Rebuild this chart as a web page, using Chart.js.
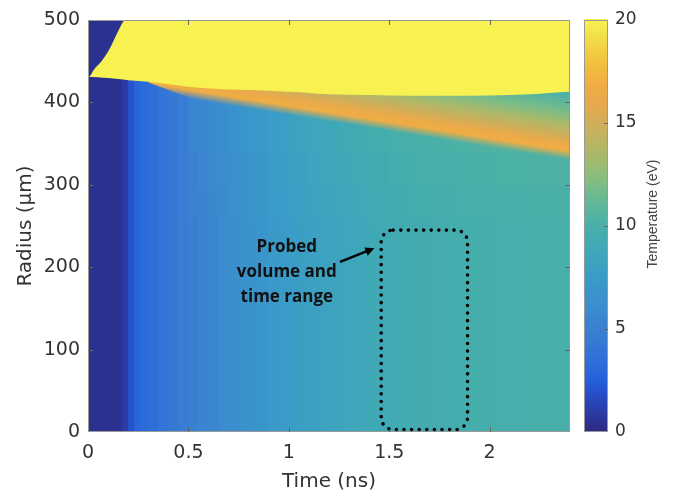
<!DOCTYPE html>
<html>
<head>
<meta charset="utf-8">
<script src="https://cdn.jsdelivr.net/npm/chart.js@4.4.1/dist/chart.umd.min.js"></script>
<style>
    html, body { margin: 0; padding: 0; background: #fff; }
    #wrap { width: 677px; height: 496px; }
</style>
</head>
<body>
<div id="wrap"><canvas id="tempChart" width="677" height="496"></canvas></div>
<script>
// Bordes de los intervalos de tiempo (ns)
const timeEdges = [0, 0.17, 0.2, 0.23, 0.26, 0.3, 0.35, 0.4, 0.45, 0.5, 0.55, 0.6, 0.65, 0.7, 0.75,
    0.8, 0.85, 0.9, 0.95, 1.0, 1.05, 1.1, 1.15, 1.2, 1.25, 1.3, 1.35, 1.4, 1.5, 1.6, 1.7, 1.8,
    1.9, 2.0, 2.1, 2.2, 2.3, 2.4];
// Bordes de las bandas de radio (µm)
const radiusEdges = [0, 100, 200, 260, 300, 340, 380, 425, 500];

// Temperatura del plasma (eV): un array por intervalo de tiempo, bandas de abajo hacia arriba
const tempByTime = [
    [0.4, 0.4, 0.4, 0.4, 0.4, 0.4, 0.4, 0.4],
    [1.0, 1.0, 1.0, 1.0, 1.0, 1.0, 1.0, 1.0],
    [2.0, 2.0, 2.0, 2.0, 2.0, 2.0, 2.0, 2.0],
    [2.8, 2.8, 2.8, 2.8, 2.8, 2.8, 2.8, 2.8],
    [3.3, 3.3, 3.3, 3.3, 3.3, 3.3, 3.3, 3.3],
    [3.6, 3.6, 3.6, 3.6, 3.6, 3.6, 3.6, 3.6],
    [4.0, 4.0, 4.0, 4.0, 4.0, 4.0, 4.0, 4.0],
    [4.35, 4.35, 4.35, 4.35, 4.35, 4.35, 4.35, 4.35],
    [4.7, 4.7, 4.7, 4.7, 4.7, 4.7, 4.7, 4.7],
    [5.0, 5.0, 5.0, 5.1, 5.2, 5.3, 5.3, 5.3],
    [5.3, 5.3, 5.3, 5.4, 5.5, 5.6, 5.6, 5.6],
    [5.6, 5.6, 5.6, 5.7, 5.8, 5.9, 5.9, 5.9],
    [5.9, 5.9, 5.9, 6.0, 6.1, 6.2, 6.2, 6.2],
    [6.2, 6.2, 6.2, 6.3, 6.4, 6.5, 6.5, 6.5],
    [6.45, 6.45, 6.45, 6.55, 6.65, 6.75, 6.75, 6.75],
    [6.7, 6.7, 6.7, 6.8, 6.9, 7.0, 7.0, 7.0],
    [6.95, 6.95, 6.95, 7.05, 7.15, 7.25, 7.25, 7.25],
    [7.2, 7.2, 7.2, 7.3, 7.4, 7.5, 7.5, 7.5],
    [7.4, 7.4, 7.4, 7.5, 7.6, 7.7, 7.7, 7.7],
    [7.6, 7.6, 7.6, 7.75, 7.9, 8.1, 8.1, 8.1],
    [7.8, 7.8, 7.8, 7.95, 8.1, 8.3, 8.3, 8.3],
    [8.0, 8.0, 8.0, 8.15, 8.3, 8.5, 8.5, 8.5],
    [8.2, 8.2, 8.2, 8.35, 8.5, 8.7, 8.7, 8.7],
    [8.35, 8.35, 8.35, 8.5, 8.65, 8.85, 8.85, 8.85],
    [8.5, 8.5, 8.5, 8.65, 8.8, 9.0, 9.0, 9.0],
    [8.65, 8.65, 8.65, 8.8, 8.95, 9.15, 9.15, 9.15],
    [8.8, 8.8, 8.8, 8.95, 9.1, 9.3, 9.3, 9.3],
    [9.0, 9.0, 9.0, 9.2, 9.4, 9.6, 9.6, 9.6],
    [9.2, 9.2, 9.2, 9.4, 9.6, 9.8, 9.8, 9.8],
    [9.4, 9.4, 9.4, 9.6, 9.8, 10.0, 10.0, 10.0],
    [9.5, 9.5, 9.5, 9.7, 9.9, 10.1, 10.1, 10.1],
    [9.6, 9.6, 9.6, 9.8, 10.0, 10.2, 10.2, 10.2],
    [9.7, 9.7, 9.7, 9.9, 10.1, 10.3, 10.3, 10.3],
    [9.8, 9.8, 9.8, 10.0, 10.2, 10.4, 10.4, 10.4],
    [9.8, 9.8, 9.8, 10.0, 10.2, 10.4, 10.4, 10.4],
    [9.9, 9.9, 9.9, 10.1, 10.3, 10.5, 10.5, 10.5],
    [9.9, 9.9, 9.9, 10.1, 10.3, 10.5, 10.5, 10.5]
];

// Borde inferior de la zona caliente (saturada)
const hotEdgeTime = [0, 0.05, 0.1, 0.15, 0.2, 0.3, 0.4, 0.5, 0.6, 0.8, 1.0, 1.2, 1.4, 1.6, 1.8, 2.0, 2.2, 2.3, 2.4];
const hotEdgeRadius = [431, 430.5, 429.5, 428.5, 427, 425, 422, 419, 417, 415, 413, 410, 409, 408, 408, 408.5, 410, 411.5, 413];
const hotTemp = 20;

// Borde de la zona fría arriba a la izquierda
const coldEdgeTime = [0, 0.01, 0.03, 0.07, 0.105, 0.145, 0.175, 0.182];
const coldEdgeRadius = [431, 432, 440, 451, 464, 484, 498, 500];
const coldTemp = 0.4;

// Frente naranja bajo la zona caliente: borde inferior y perfil por encima de él
const wedgeEdgeTime = [0.3, 0.56, 1.35, 2.4];
const wedgeEdgeRadius = [424, 402, 372, 330];
const wedgeProfileOffset = [0, 11, 19, 29, 43, 57, 71, 82];      // µm sobre el borde
const wedgeProfileTemp = [16.5, 16.8, 16.3, 15, 13.5, 12, 10.8, 10];

// Marcas de los ejes
const timeTicks = [0, 0.5, 1, 1.5, 2];
const radiusTicks = [0, 100, 200, 300, 400, 500];
const tempTicks = [0, 5, 10, 15, 20];

// Volumen y rango de tiempo sondeados (ns, µm)
const probedBox = { t0: 1.46, t1: 1.89, r0: 3, r1: 245 };

// Mapa de colores tipo parula
const cmapStops = [
    [0, '#2c2a80'], [1, '#2b3aa6'], [2, '#2652cc'], [2.5, '#2460dc'], [3.5, '#2e6fd8'],
    [5, '#3a80d2'], [6, '#3b8ccd'], [7.5, '#3a9cc8'], [9, '#3fa9b6'], [10, '#48afa8'],
    [11, '#5eb79a'], [12, '#7cbc86'], [13, '#9cbc72'], [14, '#b8b562'], [15, '#d0ae5a'],
    [16, '#e8a84c'], [17, '#f2ae42'], [18, '#f1c23e'], [19, '#f2da46'], [20, '#f7f152']
];

function hexToRgb(hex) {
    const n = parseInt(hex.slice(1), 16);
    return [(n >> 16) & 255, (n >> 8) & 255, n & 255];
}

function tempColor(t, alpha = 1) {
    const v = Math.max(0, Math.min(20, t));
    let rgb = hexToRgb(cmapStops[cmapStops.length - 1][1]);
    for (let i = 1; i < cmapStops.length; i++) {
        if (v <= cmapStops[i][0]) {
            const [t0, c0] = cmapStops[i - 1];
            const [t1, c1] = cmapStops[i];
            const f = (v - t0) / (t1 - t0);
            const a = hexToRgb(c0), b = hexToRgb(c1);
            rgb = a.map((c, k) => Math.round(c + (b[k] - c) * f));
            break;
        }
    }
    return `rgba(${rgb[0]}, ${rgb[1]}, ${rgb[2]}, ${alpha})`;
}

// Degradado del frente, perpendicular a su borde inferior
function wedgeFill(context) {
    const chart = context.chart;
    const { chartArea, scales: { x, y } } = chart;
    if (!chartArea || !x || !y) return 'rgba(0, 0, 0, 0)';
    const ax = x.getPixelForValue(wedgeEdgeTime[1]), ay = y.getPixelForValue(wedgeEdgeRadius[1]);
    const bx = x.getPixelForValue(wedgeEdgeTime[3]), by = y.getPixelForValue(wedgeEdgeRadius[3]);
    const len = Math.hypot(bx - ax, by - ay);
    const ux = (bx - ax) / len, uy = (by - ay) / len;
    const pxPerUm = Math.abs(y.getPixelForValue(1) - y.getPixelForValue(0));
    const last = wedgeProfileOffset[wedgeProfileOffset.length - 1];
    const span = last * pxPerUm * ux;
    const g = chart.ctx.createLinearGradient(ax, ay, ax + uy * span, ay - ux * span);
    wedgeProfileOffset.forEach((d, i) => {
        g.addColorStop(d / last, tempColor(wedgeProfileTemp[i], i === 0 ? 0 : 1));
    });
    return g;
}

// Dibuja las celdas del mapa de temperatura
const heatmapPlugin = {
    id: 'heatmap',
    beforeDatasetsDraw(chart) {
        const { ctx, chartArea, scales: { x, y } } = chart;
        ctx.save();
        ctx.beginPath();
        ctx.rect(chartArea.left, chartArea.top, chartArea.width, chartArea.height);
        ctx.clip();
        tempByTime.forEach((column, i) => {
            const x0 = Math.floor(x.getPixelForValue(timeEdges[i]));
            const x1 = Math.ceil(x.getPixelForValue(timeEdges[i + 1]));
            column.forEach((t, j) => {
                const yb = Math.ceil(y.getPixelForValue(radiusEdges[j]));
                const yt = Math.floor(y.getPixelForValue(radiusEdges[j + 1]));
                ctx.fillStyle = tempColor(t);
                ctx.fillRect(x0, yt, x1 - x0, yb - yt);
            });
        });
        ctx.restore();
    }
};

// Marco, marcas internas, barra de colores y anotación
const decorPlugin = {
    id: 'decor',
    afterDraw(chart) {
        const { ctx, chartArea: a, scales: { x, y, cbar } } = chart;
        ctx.save();

        // marco de los ejes
        ctx.strokeStyle = '#999';
        ctx.lineWidth = 1;
        ctx.strokeRect(a.left + 0.5, a.top + 0.5, a.width - 1, a.height - 1);

        // marcas hacia dentro
        ctx.strokeStyle = '#666';
        ctx.beginPath();
        timeTicks.forEach(v => {
            if (v <= x.min || v >= x.max) return;
            const px = Math.round(x.getPixelForValue(v)) + 0.5;
            ctx.moveTo(px, a.bottom); ctx.lineTo(px, a.bottom - 5);
            ctx.moveTo(px, a.top); ctx.lineTo(px, a.top + 5);
        });
        radiusTicks.forEach(v => {
            if (v <= y.min || v >= y.max) return;
            const py = Math.round(y.getPixelForValue(v)) + 0.5;
            ctx.moveTo(a.left, py); ctx.lineTo(a.left + 5, py);
            ctx.moveTo(a.right, py); ctx.lineTo(a.right - 5, py);
        });
        ctx.stroke();

        // barra de colores
        const cbLeft = 584, cbWidth = 24;
        for (let v = 0; v < 20; v += 0.1) {
            const yTop = cbar.getPixelForValue(v + 0.1);
            const yBot = cbar.getPixelForValue(v);
            ctx.fillStyle = tempColor(v + 0.05);
            ctx.fillRect(cbLeft, Math.floor(yTop), cbWidth, Math.ceil(yBot) - Math.floor(yTop));
        }
        ctx.strokeStyle = '#999';
        ctx.strokeRect(cbLeft + 0.5, a.top + 0.5, cbWidth - 1, a.height - 1);
        ctx.strokeStyle = '#666';
        ctx.beginPath();
        tempTicks.forEach(v => {
            if (v <= cbar.min || v >= cbar.max) return;
            const py = Math.round(cbar.getPixelForValue(v)) + 0.5;
            ctx.moveTo(cbLeft + cbWidth, py); ctx.lineTo(cbLeft + cbWidth - 4, py);
        });
        ctx.stroke();

        // título de la barra de colores
        ctx.save();
        ctx.translate(653, 214);
        ctx.rotate(-Math.PI / 2);
        ctx.font = '14px "Liberation Sans"';
        ctx.fillStyle = '#444';
        ctx.textAlign = 'center';
        ctx.textBaseline = 'middle';
        ctx.fillText('Temperature (eV)', 0, 0);
        ctx.restore();

        // recuadro punteado
        const bx0 = x.getPixelForValue(probedBox.t0);
        const bx1 = x.getPixelForValue(probedBox.t1);
        const by0 = y.getPixelForValue(probedBox.r1);
        const by1 = y.getPixelForValue(probedBox.r0);
        ctx.strokeStyle = '#000';
        ctx.lineWidth = 3.6;
        ctx.lineCap = 'round';
        ctx.setLineDash([0, 7.6]);
        ctx.beginPath();
        ctx.roundRect(bx0, by0, bx1 - bx0, by1 - by0, 12);
        ctx.stroke();
        ctx.setLineDash([]);

        // flecha
        const ax0 = x.getPixelForValue(1.255), ay0 = y.getPixelForValue(206.5);
        const ax1 = x.getPixelForValue(1.426), ay1 = y.getPixelForValue(223);
        const ang = Math.atan2(ay1 - ay0, ax1 - ax0);
        ctx.lineWidth = 2.4;
        ctx.lineCap = 'butt';
        ctx.beginPath();
        ctx.moveTo(ax0, ay0);
        ctx.lineTo(ax1 - 6 * Math.cos(ang), ay1 - 6 * Math.sin(ang));
        ctx.stroke();
        ctx.fillStyle = '#000';
        ctx.beginPath();
        ctx.moveTo(ax1, ay1);
        ctx.lineTo(ax1 - 9 * Math.cos(ang) + 4.5 * Math.sin(ang), ay1 - 9 * Math.sin(ang) - 4.5 * Math.cos(ang));
        ctx.lineTo(ax1 - 9 * Math.cos(ang) - 4.5 * Math.sin(ang), ay1 - 9 * Math.sin(ang) + 4.5 * Math.cos(ang));
        ctx.closePath();
        ctx.fill();

        // texto de la anotación
        const tx = x.getPixelForValue(0.99);
        const ty = y.getPixelForValue(224.5);
        ctx.font = 'bold 17px "Open Sans"';
        ctx.fillStyle = '#111';
        ctx.textAlign = 'center';
        ctx.textBaseline = 'middle';
        ['Probed', 'volume and', 'time range'].forEach((line, i) => {
            ctx.fillText(line, tx, ty + i * 25);
        });

        ctx.restore();
    }
};

const tickFont = { family: 'DejaVu Sans', size: 19 };
const noPadding = s => { s.paddingTop = 0; s.paddingBottom = 0; };

new Chart(document.getElementById('tempChart'), {
    type: 'line',
    data: {
        datasets: [
            {
                label: 'cold',
                data: coldEdgeTime.map((t, i) => ({ x: t, y: coldEdgeRadius[i] })),
                fill: 'end',
                backgroundColor: tempColor(coldTemp),
                borderWidth: 0,
                pointRadius: 0,
                cubicInterpolationMode: 'monotone'
            },
            {
                label: 'hot',
                data: hotEdgeTime.map((t, i) => ({ x: t, y: hotEdgeRadius[i] })),
                fill: 'end',
                backgroundColor: tempColor(hotTemp),
                borderWidth: 0,
                pointRadius: 0,
                cubicInterpolationMode: 'monotone'
            },
            {
                label: 'wedge',
                data: wedgeEdgeTime.map((t, i) => ({ x: t, y: wedgeEdgeRadius[i] })),
                fill: 'end',
                backgroundColor: wedgeFill,
                borderWidth: 0,
                pointRadius: 0,
                cubicInterpolationMode: 'monotone'
            }
        ]
    },
    options: {
        responsive: false,
        animation: false,
        events: [],
        layout: { padding: { top: 20, left: 0, right: 0, bottom: 0 } },
        plugins: {
            legend: { display: false },
            tooltip: { enabled: false }
        },
        scales: {
            x: {
                type: 'linear',
                min: 0,
                max: 2.4,
                afterBuildTicks: s => { s.ticks = timeTicks.map(v => ({ value: v })); },
                afterFit: s => { s.height = 64; },
                grid: { display: false, drawTicks: false },
                border: { display: false },
                ticks: {
                    font: tickFont, color: '#333', padding: 10, maxRotation: 0, autoSkip: false,
                    callback: v => String(v)
                },
                title: {
                    display: true, text: 'Time (ns)', color: '#333',
                    font: { family: 'DejaVu Sans', size: 20 }, padding: { top: 0, bottom: 2 }
                }
            },
            y: {
                type: 'linear',
                position: 'left',
                min: 0,
                max: 500,
                afterBuildTicks: s => { s.ticks = radiusTicks.map(v => ({ value: v })); },
                afterFit: s => { s.width = 88; noPadding(s); },
                grid: { display: false, drawTicks: false },
                border: { display: false },
                ticks: { font: tickFont, color: '#333', padding: 8, callback: v => String(v) },
                title: {
                    display: true, text: 'Radius (µm)', color: '#333',
                    font: { family: 'DejaVu Sans', size: 20 }, padding: { top: 14, bottom: 0 }
                }
            },
            cbar: {
                type: 'linear',
                position: 'right',
                min: 0,
                max: 20,
                afterBuildTicks: s => { s.ticks = tempTicks.map(v => ({ value: v })); },
                afterFit: s => { s.width = 107; noPadding(s); },
                grid: { display: false, drawTicks: false },
                border: { display: false },
                ticks: {
                    font: { family: 'DejaVu Sans', size: 17 }, color: '#333', padding: 45,
                    callback: v => String(v)
                }
            }
        }
    },
    plugins: [heatmapPlugin, decorPlugin]
});
</script>
</body>
</html>
